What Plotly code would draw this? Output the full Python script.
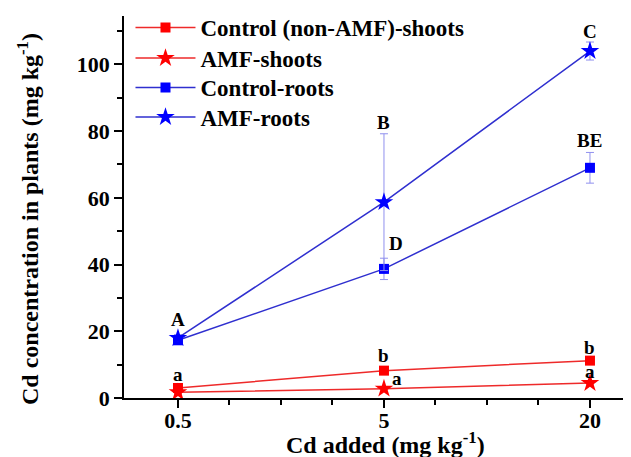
import plotly.graph_objects as go

# ---- data ----
x_labels = ["0.5", "5", "20"]
x_pos = [0, 1, 2]

control_shoots = [3.0, 8.2, 11.2]
control_shoots_err = [0.5, 0.6, 0.6]
amf_shoots = [1.7, 2.8, 4.5]
amf_shoots_err = [0.4, 0.4, 0.5]
control_roots = [17.3, 38.7, 69.0]
control_roots_err = [1.0, 3.2, 4.6]
amf_roots = [18.0, 58.7, 104.0]
amf_roots_err = [1.0, 20.5, 2.7]

series_names = ["Control (non-AMF)-shoots", "AMF-shoots", "Control-roots", "AMF-roots"]

# letters of significance: (x index, y value, text, x shift px)
letters = [
    (0, 23.5, "A", 0), (1, 82.5, "B", 0), (2, 110.0, "C", 0),
    (1, 46.2, "D", 12), (2, 77.3, "BE", 0),
    (0, 7.0, "a", 0), (1, 12.7, "b", 0), (2, 15.2, "b", 0),
    (1, 5.7, "a", 13), (2, 8.0, "a", 0),
]

FONT = "Liberation Serif"
RED_M = "#ff0000"
RED_L = "#ee2a2a"
BLUE_M = "#0000ff"
BLUE_L = "#2f2fcf"
BLUE_E = "#9090ee"
RED_E = "#f08080"

fig = go.Figure()
legend_ids = ["legend", "legend2", "legend3", "legend4"]
legend_rows_px = [19.5, 50.0, 79.5, 109.0]

def add(y, err, name, symbol, mcol, lcol, ecol, msize, leg):
    fig.add_trace(go.Scatter(
        x=x_pos, y=y, name="<b>" + name + "</b>", mode="lines+markers",
        line=dict(color=lcol, width=1.5),
        marker=dict(symbol=symbol, color=mcol, size=msize, line=dict(width=0)),
        error_y=dict(type="data", array=err, visible=True, color=ecol,
                     thickness=1, width=4),
        legend=leg,
    ))

add(control_shoots, control_shoots_err, series_names[0], "square", RED_M, RED_L, RED_E, 10, legend_ids[0])
add(amf_shoots, amf_shoots_err, series_names[1], "star", RED_M, RED_L, RED_E, 14, legend_ids[1])
add(control_roots, control_roots_err, series_names[2], "square", BLUE_M, BLUE_L, BLUE_E, 10, legend_ids[2])
add(amf_roots, amf_roots_err, series_names[3], "star", BLUE_M, BLUE_L, BLUE_E, 14, legend_ids[3])

for xi, yv, txt, dx in letters:
    fig.add_annotation(x=xi, y=yv, xref="x", yref="y", text="<b>" + txt + "</b>", showarrow=False,
                       xshift=dx, font=dict(family=FONT, size=19, color="black"))

PLOT_TOP, PLOT_BOTTOM, PLOT_LEFT = 8, 390, 116
PH = PLOT_BOTTOM - PLOT_TOP

# axis titles
fig.add_annotation(xref="paper", yref="paper", x=0.5, y=0, xanchor="center", yanchor="middle",
                   yshift=-45, xshift=4, showarrow=False,
                   text="<b>Cd added (mg kg<sup>-1</sup>)</b>",
                   font=dict(family=FONT, size=24, color="black"))
fig.add_annotation(xref="paper", yref="paper", x=0, y=(PLOT_BOTTOM - 211) / PH,
                   xanchor="center", yanchor="middle", xshift=20 - PLOT_LEFT, textangle=-90,
                   showarrow=False,
                   text="<b>Cd concentration in plants (mg kg<sup>-1</sup>)</b>",
                   font=dict(family=FONT, size=24, color="black"))

leg_common = dict(xanchor="left", yanchor="middle", font=dict(family=FONT, size=23, color="black"),
                  bgcolor="rgba(0,0,0,0)", itemwidth=60)
layout_legends = {}
for lid, r in zip(legend_ids, legend_rows_px):
    layout_legends[lid] = dict(x=0.0126, y=(PLOT_BOTTOM - r) / PH, **leg_common)

fig.update_layout(
    width=631, height=457,
    margin=dict(l=PLOT_LEFT, r=0, t=PLOT_TOP, b=457 - PLOT_BOTTOM, autoexpand=False),
    paper_bgcolor="white", plot_bgcolor="white",
    font=dict(family=FONT, color="black"),
    showlegend=True,
    xaxis=dict(
        range=[-0.262, 2.238], tickmode="array", tickvals=x_pos,
        ticktext=["<b>" + t + "</b>" for t in x_labels], automargin=False,
        showgrid=False, zeroline=False, showline=True, linecolor="black", linewidth=1.5,
        ticks="outside", ticklen=8, tickwidth=1.5, tickcolor="black", ticklabelstandoff=-6,
        tickfont=dict(family=FONT, size=22, color="black"),
        minor=dict(tickmode="array", tickvals=[0.25, 0.5, 0.75, 1.25, 1.5, 1.75],
                   ticks="outside", ticklen=5, tickwidth=1.5, tickcolor="black", showgrid=False),
    ),
    yaxis=dict(
        range=[0, 114.5], tickmode="array", tickvals=[0, 20, 40, 60, 80, 100],
        ticktext=["<b>%d</b>" % v for v in [0, 20, 40, 60, 80, 100]], automargin=False,
        showgrid=False, zeroline=False, showline=True, linecolor="black", linewidth=1.5,
        ticks="outside", ticklen=8, tickwidth=1.5, tickcolor="black",
        tickfont=dict(family=FONT, size=22, color="black"),
        minor=dict(tickmode="array", tickvals=[10, 30, 50, 70, 90, 110],
                   ticks="outside", ticklen=5, tickwidth=1.5, tickcolor="black", showgrid=False),
    ),
    **layout_legends,
)

fig.write_html("out.html")
